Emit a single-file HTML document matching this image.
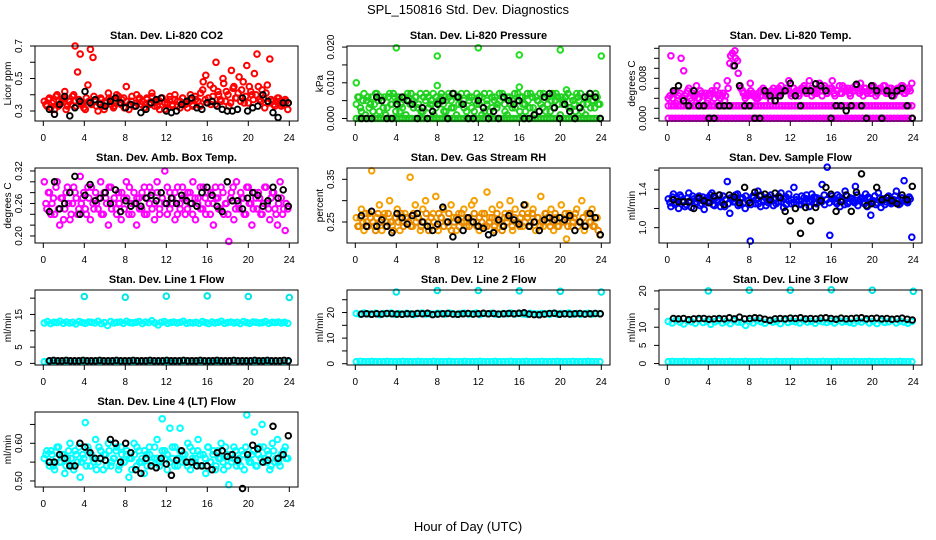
<!DOCTYPE html>
<html><head><meta charset="utf-8"><style>
html,body{margin:0;padding:0;background:#fff;}
svg{display:block;font-family:"Liberation Sans",sans-serif;}
</style></head><body>
<svg id="chart" width="936" height="540" viewBox="0 0 936 540" xmlns="http://www.w3.org/2000/svg">
<rect width="936" height="540" fill="#fff"/>
<text x="468" y="14" text-anchor="middle" font-size="13">SPL_150816  Std. Dev. Diagnostics</text>
<text x="468" y="531" text-anchor="middle" font-size="13">Hour of Day (UTC)</text>
</svg>
<script>
const xTicks = [0,4,8,12,16,20,24];
const co2Red = [.36,.33,.38,.35,.31,.40,.34,.37,.42,.33,.36,.39,.70,.54,.65,.34,.31,.46,.68,.63,.36,.30,.38,.33,.35,.41,.37,.32,.36,.39,.34,.38,.45,.31,.36,.33,.40,.37,.34,.32,.38,.35,.41,.33,.36,.31,.38,.35,.34,.39,.33,.37,.36,.32,.38,.34,.35,.40,.33,.37,.36,.41,.48,.52,.38,.34,.44,.60,.40,.36,.47,.42,.33,.55,.45,.38,.51,.43,.35,.58,.45,.40,.53,.65,.37,.43,.32,.46,.62,.36,.33,.38,.36,.34,.37,.31];
const co2Red2 = [.34,.37,.32,.36,.39,.33,.35,.38,.31,.36,.34,.40,.33,.37,.35,.32,.38,.36,.34,.39,.33,.35,.37,.31,.36,.38,.34,.33,.40,.35,.37,.32,.36,.34,.39,.33,.35,.38,.36,.32,.37,.34,.39,.35,.33,.36,.38,.31,.35,.37,.34,.40,.33,.36,.38,.35,.32,.37,.34,.39,.36,.33,.43,.37,.35,.46,.39,.34,.42,.37,.50,.36,.40,.35,.44,.38,.41,.36,.48,.39,.35,.42,.37,.40,.45,.36,.38,.41,.35,.37,.34,.36,.38,.33,.35,.36];
const co2Black = [.31,.28,.34,.39,.27,.32,.36,.42,.35,.37,.34,.33,.36,.38,.35,.32,.34,.33,.29,.31,.35,.37,.38,.30,.29,.30,.34,.36,.38,.32,.31,.35,.36,.33,.31,.30,.30,.31,.38,.30,.32,.33,.40,.36,.29,.26,.35,.35];
const presGreen = [.004,.006,.002,.007,.005,.003,.006,.004,.007,.002,.005,.006,.003,.007,.004,.006,.005,.002,.003,.006,.007,.004,.005,.006,.003,.007,.002,.005,.006,.004,.007,.003,.005,.006,.004,.002,.007,.005,.003,.006,.004,.007,.005,.002,.006,.003,.005,.007,.004,.006,.002,.005,.007,.003,.006,.004,.005,.007,.002,.006,.004,.005,.003,.007,.006,.004,.002,.005,.007,.003,.006,.005,.004,.007,.002,.006,.005,.003,.007,.004,.006,.005,.008,.003,.006,.004,.007,.005,.002,.006,.004,.007,.005,.003,.006,.004];
const presGreen2 = [.006,.003,.005,.001,.006,.004,.002,.007,.005,.006,.003,.001,.006,.004,.007,.002,.006,.004,.006,.001,.005,.007,.003,.006,.004,.002,.006,.007,.003,.005,.001,.006,.004,.007,.002,.005,.006,.003,.007,.001,.006,.004,.003,.007,.005,.006,.002,.004,.006,.001,.007,.004,.002,.006,.005,.003,.007,.006,.004,.001,.006,.003,.007,.005,.002,.006,.004,.007,.003,.006,.001,.005,.007,.003,.006,.004,.002,.007,.005,.006,.001,.004,.006,.007,.003,.005,.002,.006,.007,.004,.001,.006,.003,.005,.007,.004];
const presGreenZero = [0,0,0,0,0,0,0,0,0,0,0,0,0,0,0,0,0,0,0,0,0,0,0,0,0,0,0,0,0,0,0,0,0,0,0,0,0,0,0,0,0,0,0,0,0,0,0,0,0,0,0,0,0,0,0,0,0,0,0,0,0,0,0,0,0,0,0,0,0,0,0,0,0,0,0,0,0,0,0,0];
const presOutHours = [0.1,4,8,8,12,16,16,20,24];
const presOutVals = [.010,.0198,.0175,.0092,.0198,.0178,.0088,.0192,.0175];
const presBlack = [0,0,0,.006,.005,0,0,.004,.006,.005,.004,0,.003,0,.002,.004,.005,0,.007,.006,.004,0,0,.005,.003,0,.002,0,.006,.005,.004,.005,0,0,.001,.002,.006,.007,.003,0,.004,.002,0,.003,.006,.007,.006,0];
const tempMag = [.004,.0125,.005,.003,.0045,.012,.0095,.005,.006,.0035,.0045,.0065,.004,.005,.0045,.003,.005,.0055,.004,.0065,.005,.0045,.0035,.0075,.011,.013,.0135,.0115,.0065,.0055,.004,.0045,.007,.005,.0045,.004,.0055,.006,.0045,.005,.0035,.006,.005,.0045,.0065,.0055,.006,.0075,.0045,.005,.0055,.0045,.006,.0065,.0055,.0075,.0045,.005,.0055,.007,.0045,.0065,.005,.006,.0075,.0045,.0055,.005,.0065,.0055,.006,.0045,.0055,.0065,.0055,.007,.0045,.006,.0055,.005,.0065,.0045,.0055,.006,.0065,.005,.0055,.006,.0045,.0055,.006,.0065,.005,.0055,.006,.007];
const tempMag2 = [.0045,.004,.0055,.0035,.005,.004,.0045,.0055,.004,.005,.0045,.004,.0055,.0045,.005,.0035,.0045,.005,.0055,.0045,.004,.005,.0045,.006,.0125,.0105,.012,.009,.006,.005,.0045,.005,.0055,.0045,.004,.005,.0045,.0055,.005,.0045,.0055,.005,.0055,.006,.005,.0055,.006,.0055,.005,.006,.0055,.005,.0055,.006,.005,.0055,.006,.0055,.005,.006,.0055,.006,.005,.0055,.006,.005,.0055,.0065,.005,.006,.0055,.005,.006,.0055,.0065,.005,.0055,.006,.005,.0055,.006,.0055,.005,.006,.0055,.0065,.005,.006,.0055,.005,.006,.0055,.0065,.005,.006,.0055];
const tempMagBand = [.0025,.0025,.0025,.0025,.0025,.0025,.0025,.0025,.0025,.0025,.0025,.0025,.0025,.0025,.0025,.0025,.0025,.0025,.0025,.0025,.0025,.0025,.0025,.0025,.0025,.0025,.0025,.0025,.0025,.0025,.0025,.0025,.0025,.0025,.0025,.0025,.0025,.0025,.0025,.0025,.0025,.0025,.0025,.0025,.0025,.0025,.0025,.0025,.0025,.0025,.0025,.0025,.0025,.0025,.0025,.0025,.0025,.0025,.0025,.0025,.0025,.0025,.0025,.0025,.0025,.0025,.0025,.0025,.0025,.0025,.0025,.0025,.0025,.0025,.0025,.0025,.0025,.0025,.0025,.0025];
const tempMagZero = [0,0,0,0,0,0,0,0,0,0,0,0,0,0,0,0,0,0,0,0,0,0,0,0,0,0,0,0,0,0,0,0,0,0,0,0,0,0,0,0,0,0,0,0,0,0,0,0,0,0,0,0,0,0,0,0,0,0,0,0,0,0,0,0,0,0,0,0,0,0];
const tempBlack = [.0055,.0065,.0035,.0025,.0055,.0025,.0025,0,0,.0025,.0025,.0025,.0105,.0065,.0025,.0025,0,0,.0055,.0045,.0035,.0045,.0055,.007,.0045,.0025,.0055,.0055,.0069,.0065,.0055,0,.0025,.0025,.0015,.0025,.0068,.0025,0,.0065,.0055,0,.0055,.0045,.0055,.006,.0025,0];
const ambMag = [.30,.25,.28,.26,.24,.30,.22,.27,.25,.29,.23,.26,.28,.24,.31,.27,.25,.29,.23,.26,.28,.25,.30,.24,.27,.22,.29,.26,.25,.28,.23,.27,.30,.24,.26,.28,.22,.27,.25,.29,.24,.26,.28,.23,.30,.25,.27,.32,.24,.28,.26,.23,.29,.25,.27,.24,.28,.26,.30,.23,.27,.25,.29,.24,.26,.28,.22,.27,.25,.29,.24,.26,.19,.28,.23,.30,.25,.27,.24,.29,.26,.22,.28,.25,.27,.24,.29,.26,.23,.28,.25,.22,.30,.24,.21,.25];
const ambMag2 = [.26,.28,.24,.27,.29,.25,.27,.23,.28,.26,.24,.29,.27,.25,.26,.28,.24,.27,.29,.25,.26,.27,.24,.28,.26,.29,.25,.27,.24,.26,.28,.25,.27,.29,.24,.26,.27,.25,.28,.24,.27,.29,.25,.26,.28,.24,.27,.26,.29,.25,.27,.28,.24,.26,.29,.27,.25,.28,.24,.27,.26,.29,.25,.27,.28,.24,.26,.29,.27,.25,.28,.26,.24,.27,.29,.25,.26,.28,.27,.24,.29,.26,.25,.27,.28,.24,.26,.29,.25,.27,.28,.24,.26,.27,.25,.26];
const ambBlack = [.245,.30,.25,.26,.28,.31,.24,.275,.295,.265,.27,.28,.26,.285,.245,.265,.255,.26,.255,.27,.275,.265,.28,.26,.27,.26,.275,.265,.26,.255,.28,.29,.275,.255,.245,.30,.265,.265,.25,.27,.28,.275,.255,.265,.29,.27,.285,.255];
const rhOrange = [.26,.24,.28,.23,.25,.27,.37,.24,.26,.29,.23,.27,.25,.30,.24,.26,.28,.23,.25,.27,.26,.355,.24,.29,.26,.23,.28,.30,.25,.24,.27,.31,.23,.26,.28,.25,.24,.29,.26,.23,.27,.25,.28,.24,.26,.29,.30,.25,.23,.27,.24,.32,.26,.28,.23,.25,.29,.24,.27,.26,.30,.23,.28,.25,.26,.24,.29,.27,.25,.28,.23,.26,.31,.24,.27,.25,.28,.23,.26,.24,.29,.25,.21,.27,.24,.26,.28,.25,.30,.23,.27,.25,.28,.24,.26,.22];
const rhOrange2 = [.24,.26,.25,.27,.24,.26,.25,.23,.27,.25,.26,.24,.27,.25,.23,.26,.25,.27,.24,.26,.25,.24,.27,.25,.26,.24,.25,.27,.23,.26,.25,.24,.27,.26,.24,.25,.27,.23,.25,.26,.24,.27,.25,.26,.24,.25,.27,.24,.26,.25,.27,.24,.25,.26,.24,.27,.25,.23,.26,.25,.27,.24,.26,.25,.24,.27,.25,.26,.24,.27,.25,.26,.24,.25,.27,.26,.24,.25,.27,.24,.26,.25,.27,.24,.26,.25,.27,.24,.25,.26,.24,.27,.25,.24,.26,.23];
const rhBlack = [.265,.24,.275,.24,.255,.24,.225,.27,.26,.245,.265,.27,.25,.24,.23,.245,.285,.25,.215,.255,.23,.26,.25,.24,.235,.22,.225,.255,.24,.265,.255,.245,.29,.24,.25,.23,.255,.26,.255,.26,.255,.265,.23,.25,.24,.27,.26,.22];
const flowBlue = [1.30,1.22,1.35,1.26,1.20,1.32,1.28,1.24,1.36,1.21,1.30,1.27,1.33,1.25,1.19,1.31,1.28,1.36,1.23,1.29,1.34,1.26,1.22,1.48,1.15,1.30,1.27,1.35,1.24,1.31,1.20,1.28,0.86,1.33,1.25,1.38,1.22,1.29,1.31,1.26,1.34,1.23,1.30,1.27,1.36,1.21,1.32,1.28,1.25,1.42,1.29,1.24,1.33,1.27,1.30,1.22,1.35,1.26,1.31,1.28,1.45,1.24,1.63,0.92,1.30,1.27,1.34,1.22,1.29,1.38,1.25,1.31,1.28,1.43,1.23,1.30,1.26,1.35,1.32,1.13,1.28,1.24,1.36,1.21,1.30,1.27,1.33,1.25,1.29,1.38,1.24,1.31,1.49,1.27,1.32,0.90];
const flowBlue2 = [1.26,1.32,1.24,1.30,1.34,1.27,1.22,1.31,1.28,1.33,1.25,1.30,1.23,1.32,1.29,1.26,1.34,1.24,1.31,1.27,1.22,1.33,1.29,1.25,1.31,1.27,1.34,1.23,1.30,1.26,1.33,1.28,1.24,1.31,1.29,1.25,1.34,1.27,1.23,1.32,1.28,1.30,1.25,1.33,1.27,1.30,1.24,1.35,1.29,1.26,1.32,1.28,1.24,1.31,1.34,1.27,1.29,1.32,1.25,1.30,1.27,1.34,1.29,1.26,1.33,1.30,1.25,1.32,1.28,1.24,1.33,1.27,1.30,1.26,1.34,1.28,1.31,1.25,1.22,1.30,1.27,1.33,1.26,1.31,1.28,1.24,1.32,1.29,1.26,1.33,1.28,1.25,1.31,1.29,1.26,1.30];
const flowBlack = [1.29,1.27,1.27,1.27,1.20,1.31,1.28,1.26,1.33,1.34,1.24,1.34,1.32,1.26,1.42,1.26,1.37,1.33,1.35,1.29,1.36,1.31,1.17,1.07,1.20,0.94,1.21,1.07,1.21,1.28,1.42,1.35,1.17,1.27,1.34,1.17,1.37,1.56,1.23,1.25,1.42,1.29,1.31,1.28,1.25,1.34,1.29,1.43];
const outHours = [4,8,12,16,20,24];
const l1Cyan = [12.4,12.8,12.2,12.6,12.5,12.9,12.3,12.7,12.4,12.6,12.1,12.8,12.5,12.3,12.7,12.6,12.4,12.9,12.2,12.5,11.6,12.8,12.4,12.6,12.7,12.3,12.9,12.5,12.4,12.6,12.8,12.2,12.7,12.5,13.1,12.4,11.8,12.6,12.8,12.3,12.5,12.7,12.4,12.6,12.9,12.3,12.5,12.4,12.6,12.3,12.8,12.5,12.2,12.7,12.4,12.6,12.9,12.3,12.5,12.7,12.4,12.6,12.2,12.8,12.5,12.3,12.7,12.6,12.4,12.5,12.8,12.3,12.6,12.5,12.7,12.4,12.6,12.3];
const l1Low = [0.5,0.6,0.5,0.5,0.6,0.5,0.5,0.5,0.6,0.5,0.5,0.5,0.6,0.5,0.5,0.5,0.6,0.5,0.5,0.5,0.6,0.5,0.5,0.5,0.6,0.5,0.5,0.5,0.6,0.5,0.5,0.5,0.6,0.5,0.5,0.5,0.6,0.5,0.5,0.5,0.6,0.5,0.5,0.5,0.6,0.5,0.5,0.5,0.6,0.5,0.5,0.5,0.6,0.5,0.5,0.5,0.6,0.5,0.5,0.5,0.6,0.5,0.5,0.5];
const l1Black = [0.8,0.9,0.8,0.8,0.9,0.8,0.8,0.8,0.9,0.8,0.8,0.8,0.9,0.8,0.8,0.8,0.9,0.8,0.8,0.8,0.9,0.8,0.8,0.8,0.9,0.8,0.8,0.8,0.9,0.8,0.8,0.8,0.9,0.8,0.8,0.8,0.9,0.8,0.8,0.8,0.9,0.8,0.8,0.8,0.9,0.8,0.8,0.8,0.8,0.9,0.8,0.8,0.9,0.8,0.8,0.8,0.9,0.8];
const l1Out = [20.5,20.3,20.6,20.7,20.5,20.2];
const l2Cyan = [19.6,19.3,19.8,19.5,19.4,19.7,19.2,19.6,19.5,19.8,19.3,19.6,19.4,19.7,19.5,19.2,19.6,19.8,19.4,19.5,19.3,19.7,19.6,19.4,19.8,19.5,19.3,19.6,19.7,19.4,19.5,19.8,19.2,19.6,19.5,19.7,19.4,19.3,19.6,19.5,19.8,19.4,19.6,19.5,19.3,19.7,19.5,19.4,19.6,19.5,19.3,19.7,19.4,19.6,19.5,19.8,19.4,19.6,19.3,19.5,19.7,19.4,19.6,19.5];
const l2Low = [0.8,0.9,0.8,0.8,0.9,0.8,0.8,0.8,0.9,0.8,0.8,0.8,0.9,0.8,0.8,0.8,0.9,0.8,0.8,0.8,0.9,0.8,0.8,0.8,0.9,0.8,0.8,0.8,0.9,0.8,0.8,0.8,0.9,0.8,0.8,0.8,0.9,0.8,0.8,0.8,0.9,0.8,0.8,0.8,0.9,0.8,0.8,0.8,0.9,0.8,0.8,0.8,0.9,0.8,0.8,0.8,0.9,0.8,0.8,0.8,0.9,0.8,0.8,0.8];
const l2Black = [19.4,19.5,19.3,19.5,19.4,19.6,19.5,19.4,19.3,19.5,19.4,19.6,19.5,19.7,19.2,19.4,19.5,19.6,19.4,19.3,19.5,19.6,19.4,19.5,19.7,19.5,19.6,19.4,19.5,19.6,19.5,19.7,19.9,19.4,19.2,19.1,19.4,19.6,19.7,19.3,19.5,19.4,19.5,19.6,19.4,19.5,19.6,19.5];
const l2Out = [28.0,28.6,28.6,28.5,28.3,28.0];
const l3Cyan = [11.6,11.2,12.0,11.4,10.9,11.8,11.5,11.1,12.1,11.3,11.7,10.8,11.5,11.9,11.2,11.6,11.0,11.8,11.4,11.3,10.5,11.7,11.2,11.9,11.5,11.1,11.8,11.4,11.6,11.0,12.0,11.3,11.7,11.5,11.2,11.9,11.4,11.6,11.1,11.8,11.5,11.3,11.7,11.2,11.9,11.4,11.6,11.3,11.1,11.7,11.4,11.9,11.2,11.6,11.0,11.8,11.3,11.5,11.9,11.2,11.7,11.4,11.1,11.6];
const l3Low = [0.5,0.6,0.5,0.5,0.6,0.5,0.5,0.5,0.6,0.5,0.5,0.5,0.6,0.5,0.5,0.5,0.6,0.5,0.5,0.5,0.6,0.5,0.5,0.5,0.6,0.5,0.5,0.5,0.6,0.5,0.5,0.5,0.6,0.5,0.5,0.5,0.6,0.5,0.5,0.5,0.6,0.5,0.5,0.5,0.6,0.5,0.5,0.5,0.6,0.5,0.5,0.5,0.6,0.5,0.5,0.5,0.6,0.5,0.5,0.5,0.6,0.5,0.5,0.5];
const l3Black = [12.4,12.3,12.4,12.1,12.3,12.4,12.4,12.2,12.3,12.4,12.3,12.6,12.3,12.8,12.3,12.4,12.6,12.5,12.2,11.9,12.3,12.4,12.3,12.5,12.4,12.6,12.3,12.4,12.3,12.5,12.6,12.4,12.2,12.5,12.3,12.4,12.5,12.6,12.3,12.4,12.5,12.3,12.4,12.2,12.3,12.5,12.2,12.0];
const l3Out = [20.0,20.2,20.2,20.3,20.2,19.9];
const l4Cyan = [.56,.58,.54,.57,.53,.59,.55,.57,.52,.56,.60,.54,.58,.55,.51,.57,.655,.59,.54,.56,.61,.55,.58,.53,.57,.60,.54,.56,.58,.53,.59,.55,.57,.51,.56,.60,.54,.58,.55,.52,.57,.59,.54,.56,.61,.55,.665,.58,.53,.64,.56,.59,.54,.64,.57,.55,.60,.53,.58,.56,.61,.54,.57,.52,.59,.55,.58,.54,.56,.60,.53,.57,.49,.55,.59,.54,.56,.58,.53,.675,.55,.57,.63,.54,.59,.65,.56,.58,.53,.60,.55,.61,.54,.57,.59,.56];
const l4Cyan2 = [.57,.55,.58,.54,.56,.59,.55,.57,.54,.58,.56,.53,.57,.59,.55,.56,.54,.58,.57,.55,.53,.59,.56,.57,.54,.58,.55,.56,.59,.54,.57,.55,.58,.56,.53,.57,.59,.55,.56,.58,.54,.57,.55,.59,.56,.54,.58,.56,.57,.55,.59,.54,.56,.58,.55,.57,.54,.59,.56,.55,.58,.57,.54,.56,.59,.55,.57,.53,.58,.56,.55,.59,.54,.57,.56,.58,.55,.54,.57,.59,.56,.55,.58,.54,.57,.56,.59,.55,.57,.54,.58,.56,.55,.57,.58,.56];
const l4Black = [.55,.55,.57,.56,.54,.54,.60,.59,.575,.56,.56,.555,.61,.60,.55,.60,.575,.53,.52,.56,.54,.535,.56,.545,.515,.555,.58,.55,.55,.54,.54,.54,.53,.575,.58,.565,.57,.555,.48,.57,.595,.585,.55,.555,.645,.56,.57,.62];

const NS = "http://www.w3.org/2000/svg";
const svg = document.getElementById('chart');
function el(tag, attrs, parent){
  const e = document.createElementNS(NS, tag);
  for (const k in attrs) e.setAttribute(k, attrs[k]);
  (parent || svg).appendChild(e);
  return e;
}
function spread(n, a, b){ const h=[]; for(let i=0;i<n;i++) h.push(a + i*(b-a)/(n-1)); return h; }

const panels = [
 {key:'co2',title:'Stan. Dev. Li-820 CO2',ylab:'Licor ppm',c:0,r:0,dom:[0.2385,0.7],ticks:[0.3,0.4,0.5,0.6,0.7],labs:['0.3','0.5','0.7'],
  series:[{v:co2Red,col:'#ff0000'},{v:co2Red2,col:'#ff0000',off:true},{v:co2Black,col:'#000',black:true}]},
 {key:'pressure',title:'Stan. Dev. Li-820 Pressure',ylab:'kPa',c:1,r:0,dom:[-0.0007,0.0203],ticks:[0,0.005,0.01,0.015,0.02],labs:['0.000','0.010','0.020'],
  series:[{v:presGreenZero,col:'#22cc22'},{v:presGreen,col:'#22dd22'},{v:presGreen2,col:'#22cc22',off:true},{v:presOutVals,h:presOutHours,col:'#22dd22'},{v:presBlack,col:'#000',black:true}]},
 {key:'temp',title:'Stan. Dev. Li-820 Temp.',ylab:'degrees C',c:2,r:0,dom:[-0.00054,0.01446],ticks:[0,0.002,0.004,0.006,0.008,0.010,0.012,0.014],labs:['0.000','0.008'],
  series:[{v:tempMagZero,col:'#ff00ff'},{v:tempMagBand,col:'#ff00ff'},{v:tempMag,col:'#ff00ff'},{v:tempMag2,col:'#ff00ff',off:true},{v:tempBlack,col:'#000',black:true}]},
 {key:'amb-temp',title:'Stan. Dev. Amb. Box Temp.',ylab:'degrees C',c:0,r:1,dom:[0.187,0.3255],ticks:[0.20,0.22,0.24,0.26,0.28,0.30,0.32],labs:['0.20','0.26','0.32'],
  series:[{v:ambMag,col:'#ff00ff'},{v:ambMag2,col:'#ff00ff',off:true},{v:ambBlack,col:'#000',black:true}]},
 {key:'gas-rh',title:'Stan. Dev. Gas Stream RH',ylab:'percent',c:1,r:1,dom:[0.2008,0.3765],ticks:[0.25,0.30,0.35],labs:['0.25','0.35'],
  series:[{v:rhOrange,col:'#f5a000'},{v:rhOrange2,col:'#e88a00',off:true},{v:rhBlack,col:'#000',black:true}]},
 {key:'sample-flow',title:'Stan. Dev. Sample Flow',ylab:'ml/min',c:2,r:1,dom:[0.84,1.622],ticks:[1.0,1.2,1.4,1.6],labs:['1.0','1.4'],
  series:[{v:flowBlue,col:'#0000ff'},{v:flowBlue2,col:'#0000ff',off:true},{v:flowBlack,col:'#000',black:true}]},
 {key:'line1-flow',title:'Stan. Dev. Line 1 Flow',ylab:'ml/min',c:0,r:2,dom:[-0.5,22.5],ticks:[0,5,10,15,20],labs:['0','5','15'],
  series:[{v:l1Low,col:'#00ffff'},{v:l1Cyan,col:'#00ffff'},{v:l1Out,h:outHours,col:'#00e5e5'},{v:l1Black,col:'#000',black:true}]},
 {key:'line2-flow',title:'Stan. Dev. Line 2 Flow',ylab:'ml/min',c:1,r:2,dom:[-0.5,28.8],ticks:[0,5,10,15,20,25],labs:['0','10','20'],
  series:[{v:l2Low,col:'#00ffff'},{v:l2Cyan,col:'#00ffff'},{v:l2Out,h:outHours,col:'#00e5e5'},{v:l2Black,col:'#000',black:true}]},
 {key:'line3-flow',title:'Stan. Dev. Line 3 Flow',ylab:'ml/min',c:2,r:2,dom:[-0.4,20.25],ticks:[0,5,10,15,20],labs:['0','5','10','20'],
  series:[{v:l3Low,col:'#00ffff'},{v:l3Cyan,col:'#00ffff'},{v:l3Out,h:outHours,col:'#00e5e5'},{v:l3Black,col:'#000',black:true}]},
 {key:'line4-flow',title:'Stan. Dev. Line 4 (LT) Flow',ylab:'ml/min',c:0,r:3,dom:[0.484,0.683],ticks:[0.50,0.55,0.60,0.65],labs:['0.50','0.60'],
  series:[{v:l4Cyan,col:'#00ffff'},{v:l4Cyan2,col:'#00ffff',off:true},{v:l4Black,col:'#000',black:true}]}
];

panels.forEach(p => {
  const ox = p.c*312, oy = p.r*122;
  const L = ox+35, R = ox+298, T = oy+46, B = oy+121;
  const xs = h => ox + 43.3 + h*10.25;
  const ys = v => B - (v - p.dom[0])/(p.dom[1]-p.dom[0])*(B-T);
  const g = el('g', {});
  
  
  const t = el('text', {x:(L+R)/2, y:oy+39, 'text-anchor':'middle','font-size':'11','font-weight':'bold'}, g);
  t.textContent = p.title;
  
  
  const yl = el('text', {x:ox+11, y:(T+B)/2, 'text-anchor':'middle','font-size':'10', transform:`rotate(-90 ${ox+11} ${(T+B)/2})`}, g);
  yl.textContent = p.ylab;
  
  
  const pg = el('g', {fill:'none'}, g);
  
  
  p.series.forEach(s => {
    const hrs = s.h || (s.black ? spread(s.v.length, 0.6, 23.9) : (s.off ? spread(s.v.length, 0.25, 23.7) : spread(s.v.length, 0.1, 23.85)));
    s.v.forEach((v,i) => {
      const c = el('circle', {cx:xs(hrs[i]).toFixed(1), cy:ys(v).toFixed(1), r:2.8, stroke:s.col, 'stroke-width':s.black?1.9:2}, pg);
      
      
    });
  });
  const box = el('rect', {x:L, y:T, width:R-L, height:B-T, fill:'none', stroke:'#000', 'stroke-width':1}, g);
  
  
  xTicks.forEach(h => {
    el('line', {x1:xs(h), x2:xs(h), y1:B, y2:B+5, stroke:'#000'}, g);
    const tl = el('text', {x:xs(h), y:B+20, 'text-anchor':'middle','font-size':'10'}, g);
    tl.textContent = h;
    
    
  });
  p.ticks.forEach(v => {
    el('line', {x1:L-5, x2:L, y1:ys(v), y2:ys(v), stroke:'#000'}, g);
  });
  p.labs.forEach(s => {
    const y = ys(parseFloat(s));
    const tl = el('text', {x:ox+22, y:y, 'text-anchor':'middle','font-size':'10', transform:`rotate(-90 ${ox+22} ${y})`}, g);
    tl.textContent = s;
    
    
  });
});
</script>
</body></html>
